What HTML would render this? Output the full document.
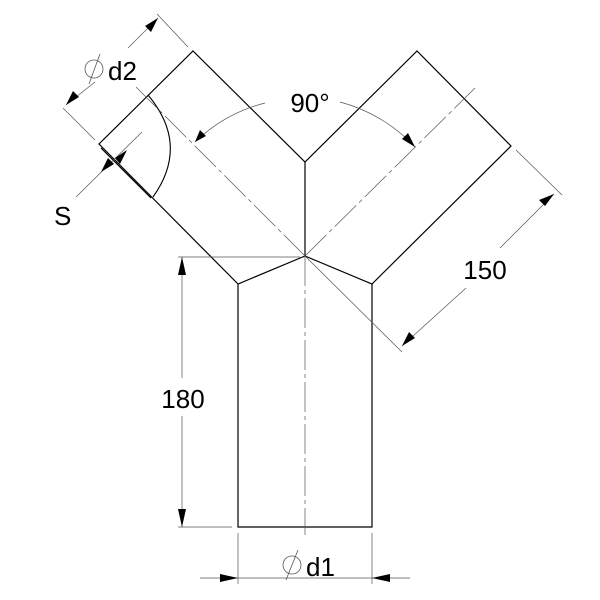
<!DOCTYPE html>
<html><head><style>html,body{margin:0;padding:0;background:#fff}svg{display:block}</style></head><body>
<svg width="600" height="600" viewBox="0 0 600 600" xmlns="http://www.w3.org/2000/svg" font-family="Liberation Sans, sans-serif">
<g fill="none" stroke="#000" stroke-width="1.2">
<path d="M238,284 L99,144 L193,51 L305,162 L417,51 L511,146 L372,284 L305,256 L238,284 Z"/>
<path d="M305,162 L305,256"/>
<path d="M238,284 L238,527 L372,527 L372,284"/>
<path d="M101,148 L151,198"/>
<path d="M148,95 Q190,145 153,197" stroke-width="1.1"/>
</g>
<g fill="none" stroke="#555" stroke-width="0.7">
<path d="M305,256 L136,87" stroke-dasharray="30,4,4,4"/>
<path d="M305,256 L475,88" stroke-dasharray="30,4,4,4"/>
<path d="M305,256 L305,535" stroke-dasharray="30,4,4,4"/>
<path d="M305,256 L402,352"/>
<path d="M516,150 L562,195"/>
<path d="M554,194 L500,248 M466,288 L402,346"/>
<path d="M157,14 L188,47 M63,108 L95,140"/>
<path d="M158,18 L128,48 M95,82 L66,105"/>
<path d="M76,197 L142,132"/>
<path d="M178,257 L300,257 M178,527 L232,527"/>
<path d="M182,257 L182,378 M182,416 L182,527"/>
<path d="M238,533 L238,584 M372,533 L372,584"/>
<path d="M200,578 L410,578"/>
<path d="M195,142 A158,158 0 0 1 265,103 M340,102 A158,158 0 0 1 415,147"/>
</g>
<g fill="#000">
<polygon points="182,257 178,275 186,275"/>
<polygon points="182,527 178,509 186,509"/>
<polygon points="238,578 220,574 220,582"/>
<polygon points="372,578 390,574 390,582"/>
<polygon points="554,194 539,200 545,206"/>
<polygon points="402,346 409,332 415,338"/>
<polygon points="158,18 145,26 151,32"/>
<polygon points="66,105 79,97 73,91"/>
<polygon points="101,172 114,164 108,158" />
<polygon points="127,150 115,158 120,164"/>
<polygon points="195,142 200,130 206,136"/>
<polygon points="415,147 408,133 402,139"/>
</g>
<g font-size="26" fill="#000">
<text x="310" y="112" text-anchor="middle">90°</text>
<text x="485" y="279" text-anchor="middle">150</text>
<text x="183" y="408" text-anchor="middle">180</text>
<text x="54" y="225">S</text>
<text x="108" y="80">d2</text>
<text x="306" y="576">d1</text>
</g>
<g fill="none" stroke="#555" stroke-width="0.8">
<circle cx="94" cy="69" r="9"/><path d="M89,84 L100,54"/>
<circle cx="292" cy="565" r="9"/><path d="M286,580 L298,550"/>
</g>
</svg>
</body></html>
